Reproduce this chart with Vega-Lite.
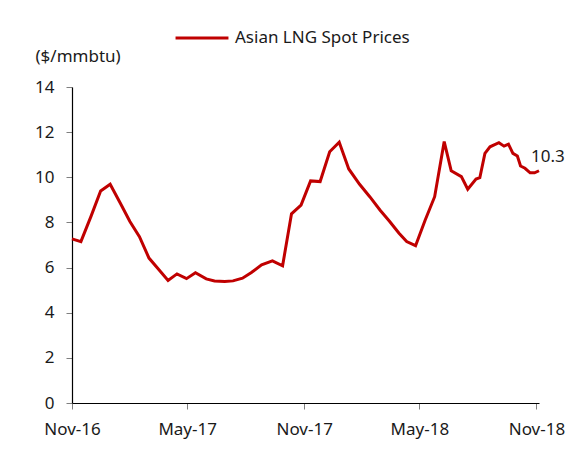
{
  "$schema": "https://vega.github.io/schema/vega-lite/v6.json",
  "autosize": {"type": "none"},
  "width": 467,
  "height": 316,
  "padding": {"left": 72, "top": 87, "right": 42, "bottom": 47},
  "background": "white",
  "config": {
    "view": {"stroke": null},
    "font": "Noto Sans",
    "axis": {"labelFont": "Noto Sans", "labelFontSize": 17, "labelColor": "#1a1a1a", "titleFont": "Noto Sans", "titleFontWeight": "normal"},
    "legend": {"labelFont": "Noto Sans"}
  },
  "data": {
    "values": [
      {"date": "2016-11-01", "price": 7.27, "series": "Asian LNG Spot Prices"},
      {"date": "2016-11-15", "price": 7.15, "series": "Asian LNG Spot Prices"},
      {"date": "2016-12-01", "price": 8.28, "series": "Asian LNG Spot Prices"},
      {"date": "2016-12-16", "price": 9.39, "series": "Asian LNG Spot Prices"},
      {"date": "2016-12-31", "price": 9.69, "series": "Asian LNG Spot Prices"},
      {"date": "2017-01-16", "price": 8.85, "series": "Asian LNG Spot Prices"},
      {"date": "2017-01-31", "price": 8.04, "series": "Asian LNG Spot Prices"},
      {"date": "2017-02-15", "price": 7.37, "series": "Asian LNG Spot Prices"},
      {"date": "2017-03-02", "price": 6.42, "series": "Asian LNG Spot Prices"},
      {"date": "2017-03-17", "price": 5.93, "series": "Asian LNG Spot Prices"},
      {"date": "2017-04-01", "price": 5.43, "series": "Asian LNG Spot Prices"},
      {"date": "2017-04-15", "price": 5.72, "series": "Asian LNG Spot Prices"},
      {"date": "2017-04-30", "price": 5.51, "series": "Asian LNG Spot Prices"},
      {"date": "2017-05-14", "price": 5.77, "series": "Asian LNG Spot Prices"},
      {"date": "2017-05-31", "price": 5.50, "series": "Asian LNG Spot Prices"},
      {"date": "2017-06-13", "price": 5.41, "series": "Asian LNG Spot Prices"},
      {"date": "2017-06-29", "price": 5.38, "series": "Asian LNG Spot Prices"},
      {"date": "2017-07-12", "price": 5.41, "series": "Asian LNG Spot Prices"},
      {"date": "2017-07-27", "price": 5.53, "series": "Asian LNG Spot Prices"},
      {"date": "2017-08-10", "price": 5.78, "series": "Asian LNG Spot Prices"},
      {"date": "2017-08-26", "price": 6.12, "series": "Asian LNG Spot Prices"},
      {"date": "2017-09-12", "price": 6.30, "series": "Asian LNG Spot Prices"},
      {"date": "2017-09-28", "price": 6.08, "series": "Asian LNG Spot Prices"},
      {"date": "2017-10-12", "price": 8.38, "series": "Asian LNG Spot Prices"},
      {"date": "2017-10-27", "price": 8.77, "series": "Asian LNG Spot Prices"},
      {"date": "2017-11-11", "price": 9.84, "series": "Asian LNG Spot Prices"},
      {"date": "2017-11-26", "price": 9.81, "series": "Asian LNG Spot Prices"},
      {"date": "2017-12-11", "price": 11.13, "series": "Asian LNG Spot Prices"},
      {"date": "2017-12-26", "price": 11.55, "series": "Asian LNG Spot Prices"},
      {"date": "2018-01-10", "price": 10.37, "series": "Asian LNG Spot Prices"},
      {"date": "2018-01-27", "price": 9.69, "series": "Asian LNG Spot Prices"},
      {"date": "2018-02-12", "price": 9.14, "series": "Asian LNG Spot Prices"},
      {"date": "2018-02-28", "price": 8.55, "series": "Asian LNG Spot Prices"},
      {"date": "2018-03-15", "price": 8.05, "series": "Asian LNG Spot Prices"},
      {"date": "2018-03-30", "price": 7.52, "series": "Asian LNG Spot Prices"},
      {"date": "2018-04-11", "price": 7.15, "series": "Asian LNG Spot Prices"},
      {"date": "2018-04-25", "price": 6.97, "series": "Asian LNG Spot Prices"},
      {"date": "2018-05-10", "price": 8.10, "series": "Asian LNG Spot Prices"},
      {"date": "2018-05-25", "price": 9.14, "series": "Asian LNG Spot Prices"},
      {"date": "2018-06-09", "price": 11.58, "series": "Asian LNG Spot Prices"},
      {"date": "2018-06-20", "price": 10.29, "series": "Asian LNG Spot Prices"},
      {"date": "2018-07-06", "price": 10.03, "series": "Asian LNG Spot Prices"},
      {"date": "2018-07-16", "price": 9.47, "series": "Asian LNG Spot Prices"},
      {"date": "2018-07-29", "price": 9.92, "series": "Asian LNG Spot Prices"},
      {"date": "2018-08-04", "price": 9.98, "series": "Asian LNG Spot Prices"},
      {"date": "2018-08-12", "price": 11.06, "series": "Asian LNG Spot Prices"},
      {"date": "2018-08-20", "price": 11.35, "series": "Asian LNG Spot Prices"},
      {"date": "2018-09-03", "price": 11.53, "series": "Asian LNG Spot Prices"},
      {"date": "2018-09-11", "price": 11.38, "series": "Asian LNG Spot Prices"},
      {"date": "2018-09-18", "price": 11.47, "series": "Asian LNG Spot Prices"},
      {"date": "2018-09-25", "price": 11.06, "series": "Asian LNG Spot Prices"},
      {"date": "2018-10-02", "price": 10.94, "series": "Asian LNG Spot Prices"},
      {"date": "2018-10-07", "price": 10.50, "series": "Asian LNG Spot Prices"},
      {"date": "2018-10-14", "price": 10.40, "series": "Asian LNG Spot Prices"},
      {"date": "2018-10-22", "price": 10.20, "series": "Asian LNG Spot Prices"},
      {"date": "2018-10-29", "price": 10.20, "series": "Asian LNG Spot Prices"},
      {"date": "2018-11-05", "price": 10.29, "series": "Asian LNG Spot Prices", "label": "10.3"}
    ]
  },
  "layer": [
    {
      "mark": {"type": "line", "strokeWidth": 3, "strokeJoin": "miter", "strokeCap": "butt"},
      "encoding": {
        "x": {
          "field": "date", "type": "temporal",
          "scale": {"type": "utc", "domain": ["2016-11-01", "2018-11-05"]},
          "axis": {
            "title": null,
            "labelExpr": "utcFormat(datum.value, '%b-%y')",
            "values": [
              {"year": 2016, "month": 11, "date": 1, "utc": true},
              {"year": 2017, "month": 5, "date": 1, "utc": true},
              {"year": 2017, "month": 11, "date": 1, "utc": true},
              {"year": 2018, "month": 5, "date": 1, "utc": true},
              {"year": 2018, "month": 11, "date": 1, "utc": true}
            ],
            "grid": false, "domainColor": "#000000", "domainWidth": 1.2,
            "tickColor": "#7f7f7f", "tickSize": 6, "labelPadding": 12,
            "labelAngle": 0, "labelFlush": false, "labelOverlap": false
          }
        },
        "y": {
          "field": "price", "type": "quantitative",
          "scale": {"domain": [0, 14], "nice": false, "zero": true},
          "axis": {
            "title": "($/mmbtu)", "titleAngle": 0, "titleX": -37, "titleY": -31,
            "titleAlign": "left", "titleBaseline": "middle", "titleFontSize": 17,
            "titleColor": "#1a1a1a",
            "values": [0, 2, 4, 6, 8, 10, 12, 14],
            "grid": false, "domainColor": "#000000", "domainWidth": 1.2,
            "tickColor": "#7f7f7f", "tickSize": 6, "labelPadding": 12
          }
        },
        "color": {
          "field": "series", "type": "nominal",
          "scale": {"range": ["#c00000"]},
          "legend": {
            "title": null, "orient": "none", "legendX": 102, "legendY": -77,
            "symbolType": "stroke", "symbolSize": 2800, "symbolStrokeWidth": 3,
            "labelFontSize": 17, "labelColor": "#1a1a1a", "labelOffset": 5, "labelLimit": 400, "padding": 0
          }
        }
      }
    },
    {
      "transform": [{"filter": "datum.label != null"}],
      "mark": {"type": "text", "align": "left", "baseline": "middle", "dx": -8, "dy": -14, "fontSize": 17, "color": "#1a1a1a", "font": "Noto Sans"},
      "encoding": {
        "x": {"field": "date", "type": "temporal"},
        "y": {"field": "price", "type": "quantitative"},
        "text": {"field": "label"}
      }
    }
  ]
}
